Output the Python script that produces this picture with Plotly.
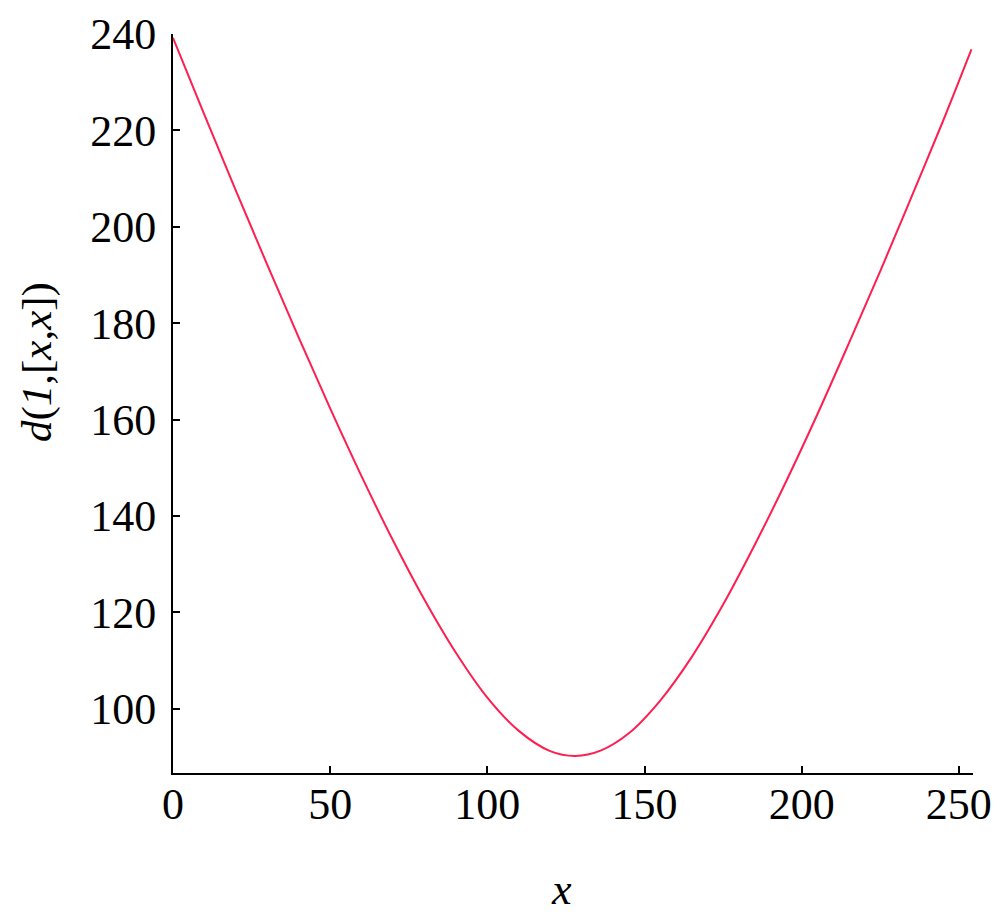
import plotly.graph_objects as go

# values
x_vals = [0, 10, 20, 30, 40, 50, 60, 70, 80, 90, 100, 110, 120, 128, 136, 145,
          155, 165, 175, 185, 195, 205, 215, 225, 235, 245, 254]
d_vals = [239.2, 223.2, 207.5, 192.1, 177.0, 162.3, 148.2, 134.9, 122.6, 111.6,
          102.3, 95.4, 91.2, 90.2, 91.3, 94.9, 101.7, 110.7, 121.6, 133.9, 147.1,
          161.1, 175.8, 190.8, 206.3, 222.0, 236.8]
x_ticks = [0, 50, 100, 150, 200, 250]
y_ticks = [100, 120, 140, 160, 180, 200, 220, 240]

FONT = "Liberation Serif, Times New Roman, serif"

fig = go.Figure()
fig.add_trace(go.Scatter(
    x=x_vals, y=d_vals, mode="lines",
    line=dict(color="rgb(255,30,80)", width=2, shape="spline", smoothing=1.0),
    showlegend=False, hoverinfo="skip",
))

axis_common = dict(
    showgrid=False, zeroline=False, showline=True, linecolor="black", linewidth=2,
    ticks="inside", ticklen=7, tickwidth=2, tickcolor="black", automargin=False,
    tickfont=dict(family=FONT, size=44, color="black"),
)

# page body has an 8px margin, so the figure is 16px smaller than the window
fig.update_layout(
    width=984, height=908,
    margin=dict(l=165, r=19, t=26, b=143),
    paper_bgcolor="white", plot_bgcolor="white",
    xaxis=dict(range=[0, 254.5], tickvals=x_ticks, ticklabelstandoff=-9, **axis_common),
    yaxis=dict(range=[86.66, 240], tickvals=y_ticks, ticklabelstandoff=6, **axis_common),
    annotations=[
        dict(text="<i>x</i>", xref="paper", yref="paper", x=0.486, y=-0.158,
             xanchor="center", yanchor="middle", showarrow=False,
             font=dict(family=FONT, size=44, color="black")),
        dict(text="<i>d</i>(<i>1</i>,[<i>x</i>,<i>x</i>])", xref="paper", yref="paper",
             x=-0.170, y=0.556, xanchor="center", yanchor="middle", textangle=-90,
             showarrow=False, font=dict(family=FONT, size=43, color="black")),
    ],
)

fig.write_html("out.html")
